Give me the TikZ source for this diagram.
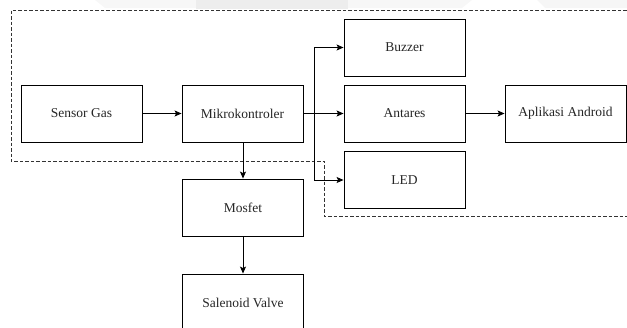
\documentclass[tikz,border=0pt]{standalone}
\usepackage{fontspec}
\setmainfont{Liberation Serif}
\usetikzlibrary{arrows.meta}
\begin{document}
\begin{tikzpicture}[x=1pt,y=-1pt,
  block/.style={draw=black, line width=0.9pt, fill=white, minimum width=121pt,
    minimum height=57pt, inner sep=0pt, text=black!85,
    font=\fontsize{13.5}{16}\selectfont},
  link/.style={draw=black, line width=0.9pt,
    -{Stealth[length=7pt,width=6pt,inset=1.5pt]}},
  region/.style={draw=black!80, line width=0.8pt, dash pattern=on 3.5pt off 2pt}]
\useasboundingbox (0,0) rectangle (627,327);
\clip (0,0) rectangle (627,327);

% faint shading along the top edge
\fill[gray!6] (95,0) -- (472,0) -- (462,8) -- (105,8) -- cycle;
\fill[gray!14] (196,0) -- (348,0) -- (348,9) -- (196,9) -- cycle;
\fill[gray!7] (537,0) -- (627,0) -- (627,8) -- (545,8) -- cycle;

% dashed system boundary
\draw[region] (632,10) -- (11,10) -- (11,161) -- (324,161) -- (324,216) -- (632,216);

% blocks
\node[block] (sensor)  at (81.5,113.5)  {Sensor Gas};
\node[block] (mcu)     at (242.5,113.5) {Mikrokontroler};
\node[block] (buzzer)  at (404.5,47.5)  {Buzzer};
\node[block] (antares) at (404.5,113.5) {Antares};
\node[block] (led)     at (404.5,180)   {LED};
\node[block] (android) at (565.5,113.5) {Aplikasi Android};
\node[block] (mosfet)  at (243,207.5)   {Mosfet};
\node[block] (valve)   at (243,302.5)   {Salenoid Valve};

% connections
\coordinate (split) at (314,113.5);
\draw[link] (sensor) -- (mcu);
\draw[link] (mcu) -- (antares);
\draw[link] (split) |- (buzzer.west);
\draw[link] (split) |- (led.west);
\draw[link] (antares) -- (android);
\draw[link] (mcu.south -| mosfet.north) -- (mosfet.north);
\draw[link] (mosfet) -- (valve);
\end{tikzpicture}
\end{document}
